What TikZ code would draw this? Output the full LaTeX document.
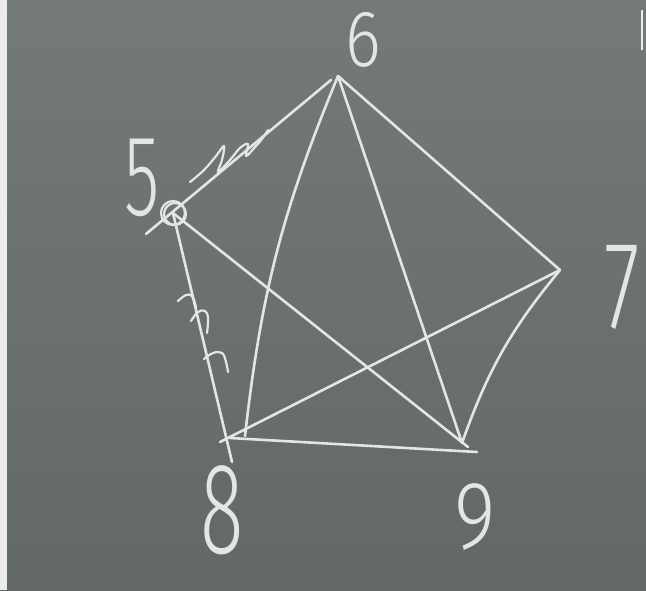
\documentclass[tikz,border=0pt]{standalone}
\usepackage{fontspec}
\IfFontExistsTF{Fira Sans Light}{\setmainfont{Fira Sans Light}}{%
  \IfFontExistsTF{Poppins Light}{\setmainfont{Poppins Light}}{%
    \IfFontExistsTF{Lato Light}{\setmainfont{Lato Light}}{%
      \IfFontExistsTF{Open Sans Light}{\setmainfont{Open Sans Light}}{%
        \setmainfont{Fira Sans}}}}}
\usetikzlibrary{calc}
\definecolor{boardtop}{RGB}{116,121,121}
\definecolor{boardbot}{RGB}{98,104,104}
\definecolor{chalk}{RGB}{228,230,226}
\definecolor{margin}{RGB}{236,236,236}
\tikzset{
  chalkline/.style={draw=chalk, line width=2.6pt, line cap=round, line join=round},
  chalkthin/.style={draw=chalk, line width=2.2pt, line cap=round, line join=round},
  digit/.style={text=chalk, inner sep=0pt, anchor=center}
}
\begin{document}
\begin{tikzpicture}[x=1pt,y=-1pt]
  \useasboundingbox (0,0) rectangle (646,590);
  \shade[top color=boardtop, bottom color=boardbot] (0,0) rectangle (646,590);
  \fill[margin] (0,0) rectangle (7,590);
  \coordinate (tr1) at (642,10);
  \coordinate (tr2) at (642,50);
  \draw[margin, line width=2pt] (tr1) -- (tr2);

  % vertices
  \coordinate (v6) at (338,76);
  \coordinate (v7) at (560,270);
  \coordinate (v9) at (462,443);
  \coordinate (v8) at (230,438);
  \coordinate (v5) at (173,213);
  \coordinate (e65) at (146,234);
  \coordinate (s65) at (331,80);
  \coordinate (e68) at (245,436);
  \coordinate (e58) at (232,462);
  \coordinate (e89) at (477,452);
  \coordinate (e78) at (220,442);
  \coordinate (e59) at (468,447);

  % edges
  \draw[chalkline] (s65) -- (e65);
  \draw[chalkline] (v6) -- (v7);
  \draw[chalkline] (v6) -- (v9);
  \draw[chalkline] (v6) to[bend right=8] (e68);
  \draw[chalkline] (v7) to[bend right=10] (v9);
  \draw[chalkline] (v7) -- (e78);
  \draw[chalkline] (v8) -- (e89);
  \draw[chalkline] (v5) -- (e59);
  \draw[chalkline] (v5) -- (e58);

  % circle at 5
  \draw[chalkthin] (v5) circle (12);
  \draw[chalkthin] ($(v5)+(2,1)$) circle (11);

  % squiggle on edge 5-6
  \draw[chalkthin] plot[smooth, tension=0.6] coordinates
    {(190,182) (204,170) (216,156) (224,146) (222,160) (218,172) (230,160) (240,148) (248,144) (246,156) (256,146) (262,139) (268,130)};
  % hooks on edge 5-8
  \draw[chalkthin] plot[smooth, tension=0.7] coordinates
    {(178,301) (186,295) (192,296) (195,303) (196,308)};
  \draw[chalkthin] plot[smooth, tension=0.7] coordinates
    {(191,321) (198,312) (205,311) (208,318) (207,333)};
  \draw[chalkthin] plot[smooth, tension=0.7] coordinates
    {(204,359) (213,353) (222,353) (226,362) (228,372)};

  % labels
  \node[digit] (l6) at (363,40) {\fontsize{80}{84}\selectfont\scalebox{0.85}[1]{6}};
  \node[digit] (l7) at (622,287) {\fontsize{125}{130}\selectfont\scalebox{0.65}[1]{7}};
  \node[digit] (l9) at (475,517) {\fontsize{96}{100}\selectfont\scalebox{0.83}[1]{9}};
  \node[digit] (l8) at (222,510) {\fontsize{130}{134}\selectfont\scalebox{0.62}[1]{8}};
  \node[digit] (l5) at (142,178) {\fontsize{115}{120}\selectfont\scalebox{0.63}[1]{5}};
\end{tikzpicture}
\end{document}
